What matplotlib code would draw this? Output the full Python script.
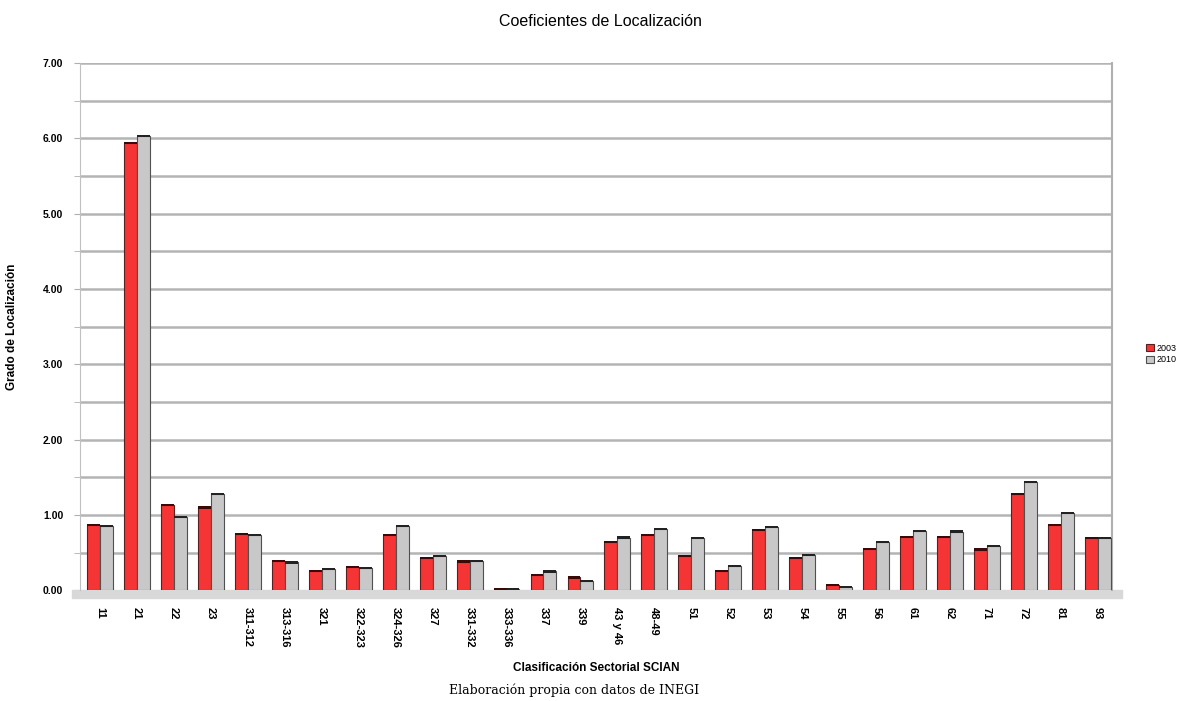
import matplotlib
matplotlib.use("Agg")
import matplotlib.pyplot as plt
import numpy as np
from matplotlib.patches import Rectangle

categories = ["11", "21", "22", "23", "311-312", "313-316", "321", "322-323", "324-326",
              "327", "331-332", "333-336", "337", "339", "43 y 46", "48-49", "51", "52",
              "53", "54", "55", "56", "61", "62", "71", "72", "81", "93"]
v2003 = [0.87, 5.94, 1.13, 1.10, 0.75, 0.39, 0.26, 0.31, 0.73, 0.43, 0.38, 0.02, 0.20, 0.17,
         0.64, 0.73, 0.45, 0.26, 0.80, 0.43, 0.07, 0.55, 0.71, 0.71, 0.54, 1.28, 0.87, 0.69]
v2010 = [0.85, 6.03, 0.97, 1.28, 0.73, 0.37, 0.28, 0.30, 0.85, 0.45, 0.39, 0.02, 0.25, 0.12,
         0.70, 0.81, 0.69, 0.32, 0.84, 0.47, 0.04, 0.64, 0.79, 0.78, 0.59, 1.44, 1.03, 0.69]
ytick_labels = ["0.00", "1.00", "2.00", "3.00", "4.00", "5.00", "6.00", "7.00"]

plt.rcParams['font.family'] = ['Liberation Sans', 'DejaVu Sans']

fig = plt.figure(figsize=(11.82, 7.01), dpi=100)
ax = fig.add_axes([0.0677, 0.158, 0.873, 0.752])

x = np.arange(len(categories))
w = 0.35
red = "#f53535"
grey = "#c8c8c8"
b1 = ax.bar(x - w / 2, v2003, w, color=red, edgecolor="#5a2020", linewidth=0.8, label="2003", zorder=3)
b2 = ax.bar(x + w / 2, v2010, w, color=grey, edgecolor="#505050", linewidth=0.8, label="2010", zorder=3)
# dark caps on top of bars
ax.bar(x - w / 2, [0.03] * len(x), w, bottom=np.array(v2003) - 0.015, color="#3a0a0a", zorder=4, linewidth=0)
ax.bar(x + w / 2, [0.03] * len(x), w, bottom=np.array(v2010) - 0.015, color="#222222", zorder=4, linewidth=0)

ax.set_xlim(-0.54, 27.38)
ax.set_ylim(0, 7)
ax.set_yticks(np.arange(0, 8, 1))
ax.set_yticklabels(ytick_labels, fontsize=7.5, fontweight="bold")
ax.set_yticks(np.arange(0.5, 7, 1), minor=True)
ax.tick_params(axis="y", which="both", length=4, color="#b0b0b0", pad=8)
for yv in np.arange(0.5, 7.5, 0.5):
    ax.axhline(yv, color="#b4b4b4", linewidth=1.8, zorder=1)

ax.set_xticks(x)
ax.set_xticklabels(categories, rotation=-90, fontsize=8, fontweight="bold")
ax.tick_params(axis="x", length=0, pad=12)

for s in ["top", "bottom"]:
    ax.spines[s].set_visible(False)
ax.spines["left"].set_color("#c0c0c0")
ax.spines["right"].set_color("#b0b0b0")
ax.spines["right"].set_linewidth(1.5)

# floor band
ax.add_patch(Rectangle((-0.75, -0.1), 28.4, 0.1, color="#d8d8d8", clip_on=False, zorder=2))

ax.set_ylabel("Grado de Localización", fontsize=8.5, fontweight="bold", labelpad=18)
ax.set_xlabel("Clasificación Sectorial SCIAN", fontsize=8.5, fontweight="bold", labelpad=10)

fig.text(0.508, 0.97, "Coeficientes de Localización", ha="center", va="center", fontsize=11.5)
fig.text(0.486, 0.016, "Elaboración propia con datos de INEGI", ha="center", va="center",
         fontsize=9, family=["DejaVu Serif"])

leg = fig.legend(handles=[b1, b2], labels=["2003", "2010"], loc="center left",
                 bbox_to_anchor=(0.963, 0.495), frameon=False, fontsize=6.5,
                 handlelength=0.8, handleheight=0.8, handletextpad=0.3, labelspacing=0.3)

fig.savefig("out.png", dpi=100)
